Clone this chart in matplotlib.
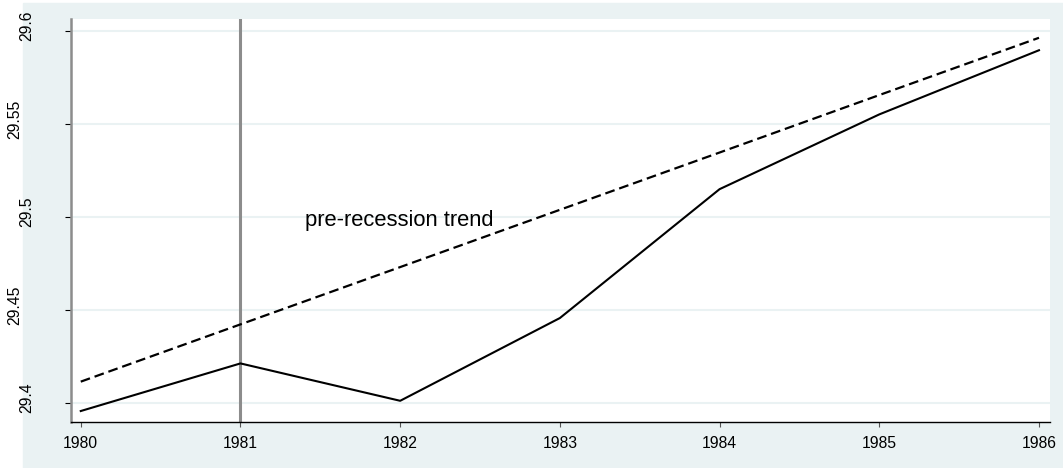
import matplotlib
matplotlib.use("Agg")
import matplotlib.pyplot as plt
import matplotlib.transforms as mtransforms
from matplotlib.patches import Rectangle

plt.rcParams['font.family'] = ['Liberation Sans', 'DejaVu Sans']

years = [1980, 1981, 1982, 1983, 1984, 1985, 1986]
actual = [29.3957, 29.4213, 29.4012, 29.4457, 29.5150, 29.5552, 29.5897]
trend = [29.4115, 29.4423, 29.4731, 29.5039, 29.5347, 29.5656, 29.5964]
y_ticks = [29.4, 29.45, 29.5, 29.55, 29.6]
y_labels = ['29.4', '29.45', '29.5', '29.55', '29.6']
recession_year = 1981
note = 'pre-recession trend'

W, H = 1063, 468
bg = '#EAF2F3'

fig = plt.figure(figsize=(W / 100, H / 100), dpi=100)
fig.patch.set_facecolor('white')
# stata-ish light blue outer region (starts a little in from left/top)
fig.patches.append(Rectangle((23 / W, 0), 1 - 23 / W, (H - 3) / H,
                             transform=fig.transFigure, color=bg, zorder=-10))

ax = fig.add_axes([70.7 / W, (H - 422) / H, (1050 - 70.7) / W, (422 - 19) / H])
ax.set_facecolor('white')

ax.set_xlim(1979.937, 1986.069)
ax.set_ylim(29.3898, 29.6065)

for yt in y_ticks:
    ax.axhline(yt, color=bg, lw=1.5, zorder=0)

ax.axvline(recession_year, color='#8C8C8C', lw=2.2, zorder=1)
ax.plot(years, trend, color='black', lw=1.6, ls=(0, (4.4, 2.2)), zorder=3)
ax.plot(years, actual, color='black', lw=1.5, zorder=3)
ax.text(1981.405, 29.4952, note, fontsize=15.8, va='baseline', ha='left')

ax.spines['top'].set_visible(False)
ax.spines['right'].set_visible(False)
ax.spines['left'].set_color('#8C8C8C')
ax.spines['left'].set_linewidth(1.8)
ax.spines['bottom'].set_color('black')
ax.spines['bottom'].set_linewidth(1.0)

ax.set_xticks(years)
ax.set_xticklabels([str(y) for y in years])
ax.tick_params(axis='x', direction='out', length=3.6, width=0.8, color='#555555',
               labelsize=11.3, pad=6.3)
ax.set_yticks(y_ticks)
ax.set_yticklabels([])
ax.tick_params(axis='y', direction='out', length=4.5, width=0.8, color='black')

# y labels: rotated, staggered like the original export
trans = mtransforms.blended_transform_factory(fig.transFigure, ax.transData)
shift = mtransforms.ScaledTranslation(0, 5 / 100, fig.dpi_scale_trans)
for i, (v, s) in enumerate(zip(y_ticks, y_labels)):
    xc = 27 if i % 2 == 0 else 14.5
    ax.text(xc / W, v, s, transform=trans + shift, rotation=90,
            ha='center', va='center', fontsize=11.3, clip_on=False)

fig.savefig('out.png', dpi=100, facecolor=fig.get_facecolor())
